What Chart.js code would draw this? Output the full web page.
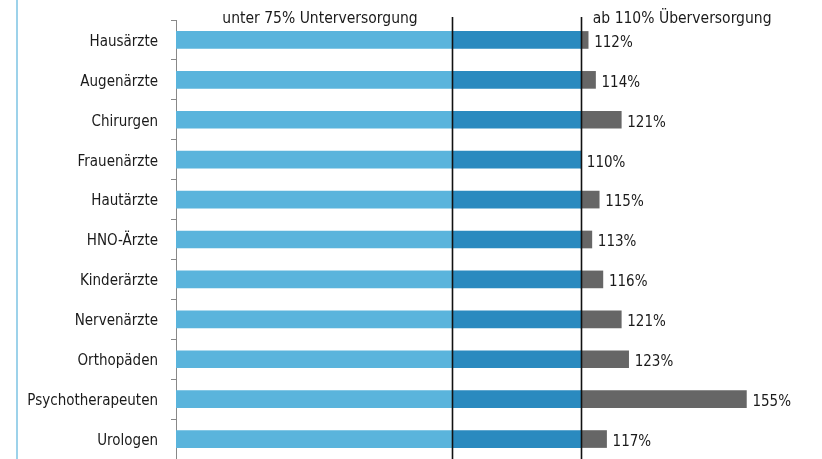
<!DOCTYPE html>
<html><head><meta charset="utf-8">
<script src="https://cdn.jsdelivr.net/npm/chart.js@4"></script>
<style>html,body{margin:0;padding:0;background:#fff;}#wrap{width:822px;height:459px;position:relative;}</style>
</head><body><div id="wrap"><canvas id="c" width="822" height="459"></canvas></div>
<script>
const categories = ["Hausärzte","Augenärzte","Chirurgen","Frauenärzte","Hautärzte","HNO-Ärzte","Kinderärzte","Nervenärzte","Orthopäden","Psychotherapeuten","Urologen"];
const supplyLevel = [112,114,121,110,115,113,116,121,123,155,117];
const underThreshold = 75;
const overThreshold = 110;
const headerLeft = "unter 75% Unterversorgung";
const headerRight = "ab 110% Überversorgung";

const FONT = "'Liberation Sans Narrow','DejaVu Sans Condensed',sans-serif";

const seg1 = supplyLevel.map(v => Math.min(v, underThreshold));
const seg2 = supplyLevel.map(v => Math.max(0, Math.min(v, overThreshold) - underThreshold));
const seg3 = supplyLevel.map(v => Math.max(0, v - overThreshold));

const overlay = {
  id: 'overlay',
  afterDatasetsDraw(chart) {
    const {ctx, scales:{x, y}, chartArea} = chart;
    ctx.save();
    // frame line on the left
    ctx.strokeStyle = '#7cc3e3';
    ctx.lineWidth = 1.5;
    ctx.beginPath(); ctx.moveTo(17, 0); ctx.lineTo(17, 459); ctx.stroke();
    // threshold lines
    ctx.strokeStyle = '#111';
    ctx.lineWidth = 1.6;
    [underThreshold, overThreshold].forEach(t => {
      const px = Math.round(x.getPixelForValue(t)) + 0.5;
      ctx.beginPath(); ctx.moveTo(px, chartArea.top - 3); ctx.lineTo(px, 459); ctx.stroke();
    });
    // value labels
    ctx.fillStyle = '#1a1a1a';
    ctx.font = "15px " + FONT;
    ctx.textBaseline = 'middle';
    ctx.textAlign = 'left';
    supplyLevel.forEach((v, i) => {
      const px = x.getPixelForValue(v);
      const py = y.getPixelForValue(i);
      ctx.fillText(v + '%', px + 6, py + 3);
    });
    // headers
    ctx.font = "15.5px " + FONT;
    ctx.textBaseline = 'alphabetic';
    ctx.textAlign = 'center';
    ctx.fillText(headerLeft, (x.getPixelForValue(0) + x.getPixelForValue(underThreshold)) / 2 + 6, 23);
    ctx.textAlign = 'left';
    ctx.fillText(headerRight, x.getPixelForValue(overThreshold) + 12, 23);
    ctx.restore();
  }
};

new Chart(document.getElementById('c'), {
  type: 'bar',
  data: {
    labels: categories,
    datasets: [
      {data: seg1, backgroundColor: '#5ab4dc', barThickness: 17},
      {data: seg2, backgroundColor: '#2a8abf', barThickness: 17},
      {data: seg3, backgroundColor: '#666666', barThickness: 17}
    ]
  },
  options: {
    indexAxis: 'y',
    responsive: false,
    animation: false,
    devicePixelRatio: 1,
    layout: {padding: {top: 20, right: 2, bottom: 0, left: 0}},
    plugins: {legend: {display: false}, tooltip: {enabled: false}},
    scales: {
      x: {stacked: true, min: 0, max: 175, display: false},
      y: {
        stacked: true,
        afterFit(s) { s.width = 176; s.paddingTop = 0; s.paddingBottom = 0; },
        grid: {drawOnChartArea: false, offset: true, tickLength: 5, color: '#888', lineWidth: 1},
        border: {display: true, color: '#888', width: 1},
        ticks: {color: '#1a1a1a', padding: 13, labelOffset: 2, font: {family: FONT, size: 15}}
      }
    }
  },
  plugins: [overlay]
});
</script>
</body></html>
